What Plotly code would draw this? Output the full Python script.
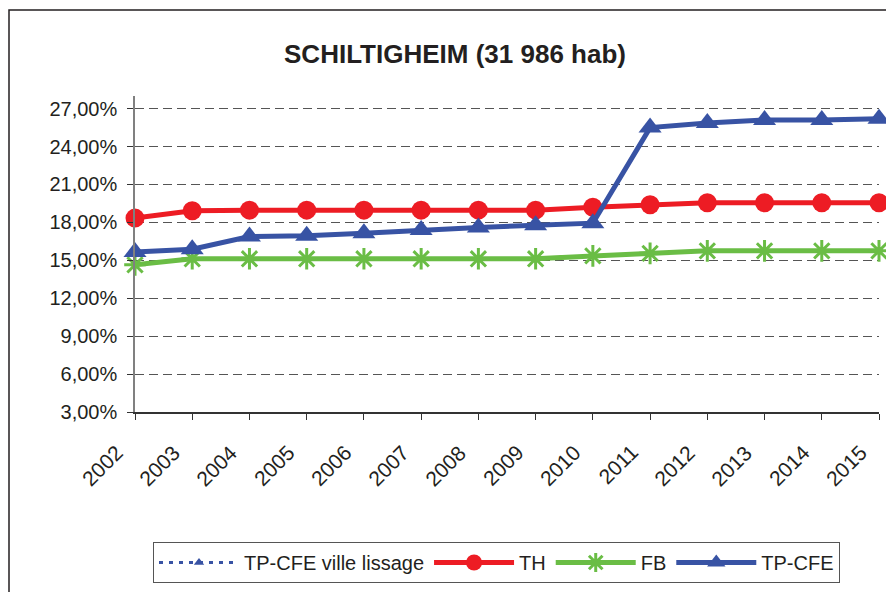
import plotly.graph_objects as go

# Years on the category axis
years = ["2002", "2003", "2004", "2005", "2006", "2007", "2008",
         "2009", "2010", "2011", "2012", "2013", "2014", "2015"]

# Tax rates (%) per year
th = [18.34, 18.92, 18.97, 18.97, 18.97, 18.97, 18.97,
      18.97, 19.20, 19.40, 19.55, 19.55, 19.55, 19.55]
fb = [14.64, 15.12, 15.12, 15.12, 15.12, 15.12, 15.12,
      15.12, 15.35, 15.55, 15.75, 15.75, 15.75, 15.75]
tp_cfe = [15.65, 15.88, 16.88, 16.95, 17.15, 17.40, 17.60,
          17.78, 17.94, 25.50, 25.86, 26.10, 26.10, 26.20]
# Smoothed series: no values plotted, legend entry only
tp_cfe_lissage = [None] * len(years)

y_ticks = [3, 6, 9, 12, 15, 18, 21, 24, 27]
y_tick_labels = ["3,00%", "6,00%", "9,00%", "12,00%", "15,00%",
                 "18,00%", "21,00%", "24,00%", "27,00%"]

FONT = "Liberation Sans, Arial, sans-serif"
TEXT = "#231F20"
RED = "#ED1C24"
GREEN = "#6ABD45"
BLUE = "#3853A4"

fig = go.Figure()

fig.add_trace(go.Scatter(
    x=years, y=tp_cfe_lissage, name="TP-CFE ville lissage",
    mode="lines+markers", connectgaps=False,
    line=dict(color=BLUE, width=3, dash="4px,6px"),
    marker=dict(symbol="triangle-up", size=9, color=BLUE),
    cliponaxis=False,
))
fig.add_trace(go.Scatter(
    x=years, y=th, name="TH", mode="lines+markers",
    line=dict(color=RED, width=5),
    marker=dict(symbol="circle", size=19, color=RED),
    cliponaxis=False,
))
fig.add_trace(go.Scatter(
    x=years, y=fb, name="FB", mode="lines+markers",
    line=dict(color=GREEN, width=5),
    marker=dict(symbol="asterisk-open", size=18,
                line=dict(color=GREEN, width=3)),
    cliponaxis=False,
))
fig.add_trace(go.Scatter(
    x=years, y=tp_cfe, name="TP-CFE", mode="lines+markers",
    line=dict(color=BLUE, width=5),
    marker=dict(symbol="triangle-up", size=20, color=BLUE),
    cliponaxis=False,
))

L, R, T, B = 135, 7, 96, 180
W, H = 886, 592
pw = W - L - R
ph = H - T - B


def px_x(px):
    return (px - L) / pw


def px_y(py):
    return (H - B - py) / ph


# Rotated year labels under each tick (category index on the x axis),
# set slightly left of the tick
year_labels = [
    dict(
        text=yr, x=i, xref="x", y=px_y(438), yref="paper",
        textangle=-45, xanchor="right", yanchor="top", xshift=-5,
        showarrow=False, font=dict(family=FONT, size=21, color=TEXT),
    )
    for i, yr in enumerate(years)
]

fig.update_layout(
    width=W, height=H,
    margin=dict(l=L, r=R, t=T, b=B, autoexpand=False),
    paper_bgcolor="white", plot_bgcolor="white",
    font=dict(family=FONT, size=20, color=TEXT),
    title=dict(
        text="<b>SCHILTIGHEIM (31 986 hab)</b>",
        font=dict(family=FONT, size=26, color=TEXT),
        x=455 / W, xref="container", xanchor="center",
        y=1 - 54 / H, yref="container", yanchor="middle",
    ),
    showlegend=True,
    legend=dict(
        orientation="h",
        x=px_x(153), y=px_y(542), xanchor="left", yanchor="top",
        bordercolor="#555555", borderwidth=1,
        font=dict(family=FONT, size=20, color=TEXT),
        itemwidth=80, tracegroupgap=0,
    ),
    annotations=year_labels,
    shapes=[dict(
        type="rect", xref="paper", yref="paper",
        x0=px_x(9), x1=px_x(W + 20), y0=px_y(H + 20), y1=px_y(10),
        line=dict(color=TEXT, width=1.5), fillcolor="rgba(0,0,0,0)",
        layer="below",
    )],
)

fig.update_xaxes(
    type="category", categoryorder="array", categoryarray=years,
    range=[0, len(years) - 1], automargin=False,
    showticklabels=False,
    showgrid=False, zeroline=False,
    showline=True, linecolor="#333333", linewidth=1.5,
    ticks="outside", ticklen=6, tickcolor="#333333",
)
fig.update_yaxes(
    range=[3, 28], tickvals=y_ticks, ticktext=y_tick_labels,
    automargin=False,
    showgrid=True, gridcolor="#555555", gridwidth=1, griddash="9px,5px",
    zeroline=False,
    showline=True, linecolor="#808080", linewidth=1.5,
    ticks="outside", ticklen=6, tickcolor="#333333",
    tickfont=dict(size=20), ticklabelstandoff=6,
)

fig.write_html("out.html")
